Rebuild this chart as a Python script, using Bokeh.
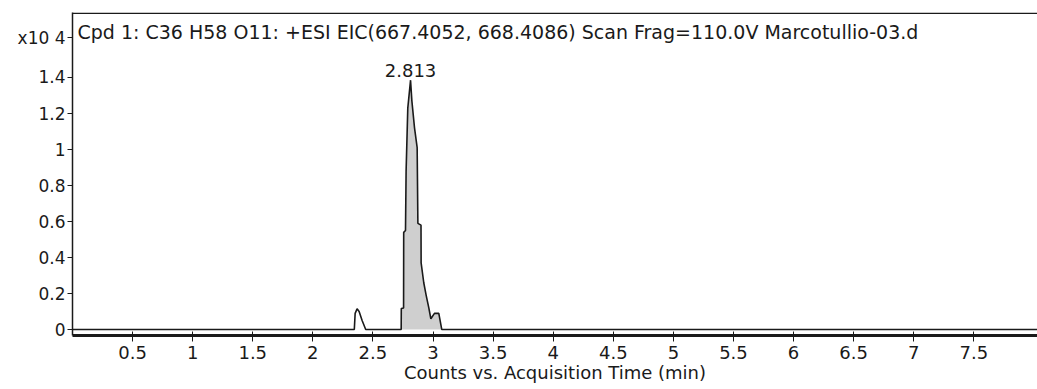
from bokeh.plotting import figure
from bokeh.models import ColumnDataSource, FixedTicker, Label, Span, Range1d
from bokeh.embed import file_html
from bokeh.resources import INLINE

# ---- data (counts in units of 10^4) ----
title_text = "Cpd 1: C36 H58 O11: +ESI EIC(667.4052, 668.4086) Scan Frag=110.0V Marcotullio-03.d"
x_axis_title = "Counts vs. Acquisition Time (min)"
y_scale_text = "x10 4"
y_scale_pos = 1.622
peak_rt = 2.813
peak_label = "2.813"

time_min = [0.0, 2.345, 2.352, 2.368, 2.385, 2.41, 2.44,
            2.735, 2.736, 2.755, 2.756, 2.771, 2.776, 2.790, 2.813, 2.824, 2.846,
            2.868, 2.874, 2.900, 2.901, 2.923, 2.943, 2.965, 2.982, 3.012, 3.048,
            3.073, 8.03]
counts = [0.0, 0.0, 0.09, 0.115, 0.10, 0.05, 0.0,
          0.0, 0.117, 0.12, 0.54, 0.55, 0.88, 1.23, 1.385, 1.27, 1.12,
          1.01, 0.59, 0.58, 0.37, 0.26, 0.19, 0.12, 0.06, 0.09, 0.09,
          0.0, 0.0]
# integrated (shaded) region: indices of the main peak
peak_start, peak_end = 7, 28

x_ticks = [0.5, 1, 1.5, 2, 2.5, 3, 3.5, 4, 4.5, 5, 5.5, 6, 6.5, 7, 7.5]
x_tick_labels = ["0.5", "1", "1.5", "2", "2.5", "3", "3.5", "4", "4.5", "5",
                 "5.5", "6", "6.5", "7", "7.5"]
y_ticks = [0, 0.2, 0.4, 0.6, 0.8, 1, 1.2, 1.4]
y_tick_labels = ["0", "0.2", "0.4", "0.6", "0.8", "1", "1.2", "1.4"]

FONT = "DejaVu Sans"
INK = "#1a1a1a"

p = figure(width=1037, height=389, output_backend="svg", toolbar_location=None,
           x_range=Range1d(0.0, 8.03), y_range=Range1d(-0.033, 1.761),
           min_border_left=72, min_border_right=0, min_border_top=12,
           min_border_bottom=54)
p.background_fill_color = "white"
p.border_fill_color = "white"
p.outline_line_color = None
p.xgrid.grid_line_color = None
p.ygrid.grid_line_color = None

src = ColumnDataSource(dict(t=time_min, c=counts))
fill_src = ColumnDataSource(dict(t=time_min[peak_start:peak_end],
                                 c=counts[peak_start:peak_end]))
p.varea(x="t", y1=0, y2="c", source=fill_src, fill_color="#cfcfcf")
p.line(x="t", y="c", source=src, line_color=INK, line_width=1.6)

# top border
p.add_layout(Span(location=1.757, dimension="width", line_color=INK, line_width=1.5))

# x axis
xa = p.xaxis[0]
xa.ticker = FixedTicker(ticks=x_ticks)
xa.major_label_overrides = {t: l for t, l in zip(x_ticks, x_tick_labels)}
xa.minor_tick_line_color = None
xa.major_tick_in = 4
xa.major_tick_out = 6
xa.major_tick_line_color = INK
xa.axis_line_color = INK
xa.axis_line_width = 3
xa.major_label_standoff = 4
xa.major_label_text_font = FONT
xa.major_label_text_font_size = "18px"
xa.major_label_text_color = INK
xa.axis_label = x_axis_title
xa.axis_label_text_font = FONT
xa.axis_label_text_font_style = "normal"
xa.axis_label_text_font_size = "18px"
xa.axis_label_text_color = INK
xa.axis_label_standoff = 0

# y axis (the "x10 4" scale note sits at the top of the tick column)
ya = p.yaxis[0]
ya.ticker = FixedTicker(ticks=y_ticks + [y_scale_pos])
overrides = {t: l for t, l in zip(y_ticks, y_tick_labels)}
overrides[y_scale_pos] = y_scale_text
ya.major_label_overrides = overrides
ya.minor_tick_line_color = None
ya.major_tick_in = 0
ya.major_tick_out = 5
ya.major_tick_line_color = INK
ya.axis_line_color = INK
ya.axis_line_width = 1.5
ya.major_label_standoff = 2
ya.major_label_text_font = FONT
ya.major_label_text_font_size = "17px"
ya.major_label_text_color = INK

# texts
p.add_layout(Label(x=0.0, y=1.655, x_offset=5, text=title_text, text_font=FONT,
                   text_font_size="19px", text_color=INK, text_baseline="middle"))
p.add_layout(Label(x=peak_rt, y=1.385, y_offset=3, text=peak_label, text_font=FONT,
                   text_font_size="18px", text_color=INK, text_align="center",
                   text_baseline="bottom"))

open("out.html", "w").write(file_html(p, INLINE))
